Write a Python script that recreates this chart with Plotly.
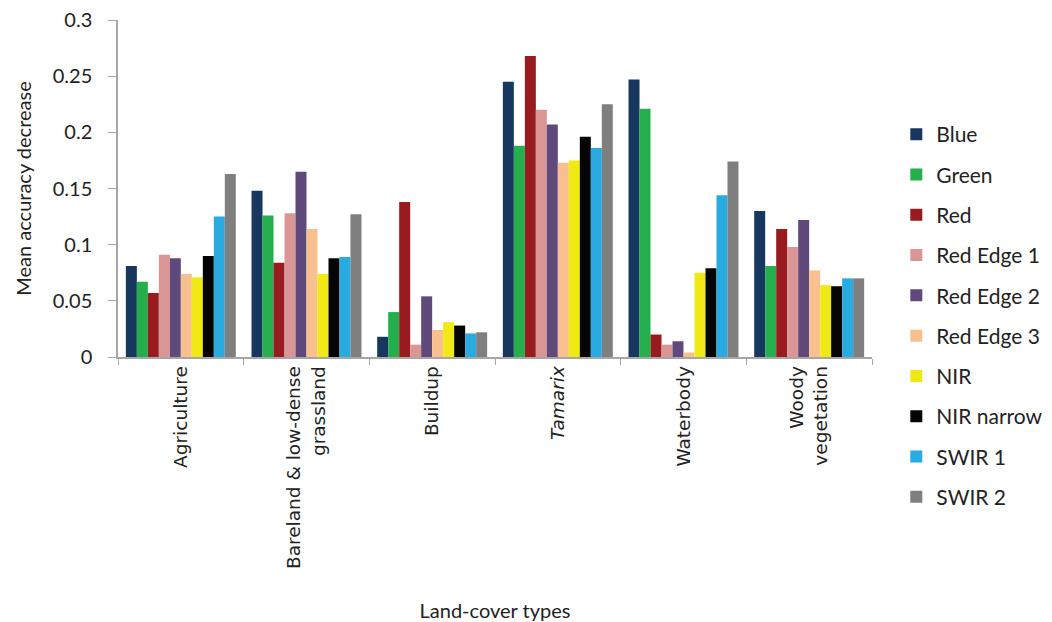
import plotly.graph_objects as go

# Land-cover classes (x categories)
categories = [
    "Agriculture",
    "Bareland & low-dense<br>grassland",
    "Buildup",
    "<i>Tamarix</i>",
    "Waterbody",
    "Woody<br>vegetation",
]

# Mean accuracy decrease per spectral band, one value per land-cover class
blue = [0.081, 0.148, 0.018, 0.245, 0.247, 0.130]
green = [0.067, 0.126, 0.040, 0.188, 0.221, 0.081]
red = [0.057, 0.084, 0.138, 0.268, 0.020, 0.114]
red_edge_1 = [0.091, 0.128, 0.011, 0.220, 0.011, 0.098]
red_edge_2 = [0.088, 0.165, 0.054, 0.207, 0.014, 0.122]
red_edge_3 = [0.074, 0.114, 0.024, 0.173, 0.004, 0.077]
nir = [0.071, 0.074, 0.031, 0.175, 0.075, 0.064]
nir_narrow = [0.090, 0.088, 0.028, 0.196, 0.079, 0.063]
swir_1 = [0.125, 0.089, 0.021, 0.186, 0.144, 0.070]
swir_2 = [0.163, 0.127, 0.022, 0.225, 0.174, 0.070]

band_names = ["Blue", "Green", "Red", "Red Edge 1", "Red Edge 2",
              "Red Edge 3", "NIR", "NIR narrow", "SWIR 1", "SWIR 2"]
band_values = [blue, green, red, red_edge_1, red_edge_2,
               red_edge_3, nir, nir_narrow, swir_1, swir_2]
band_colors = ["#17375E", "#24AE4E", "#981B20", "#D99694", "#604A7B",
               "#F8C08F", "#F1E916", "#050505", "#29ABE2", "#7F7F80"]

y_ticks = [0, 0.05, 0.1, 0.15, 0.2, 0.25, 0.3]
y_ticktext = ["0", "0.05", "0.1", "0.15", "0.2", "0.25", "0.3"]

fig = go.Figure()
for i, (name, vals, col) in enumerate(zip(band_names, band_values, band_colors)):
    fig.add_trace(go.Bar(
        x=categories, y=vals, name=name,
        marker=dict(color=col, line=dict(width=0)),
        legendgroup=f"g{i}",
    ))

axis_grey = "#A6A6A6"
text_col = "#222222"
fig.update_layout(
    width=1052, height=622,
    margin=dict(l=118, r=180, t=20, b=265, autoexpand=False),
    paper_bgcolor="white", plot_bgcolor="white",
    barmode="group", bargap=0.125, bargroupgap=0,
    font=dict(family="Lato", color=text_col),
    showlegend=True,
    legend=dict(
        xref="container", yref="container",
        x=0.852, y=1 - 316 / 622, xanchor="left", yanchor="middle",
        maxheight=600,
        font=dict(family="Lato", size=21, color=text_col),
        tracegroupgap=10, itemwidth=30,
        bgcolor="rgba(0,0,0,0)",
    ),
    xaxis=dict(
        type="category",
        tickson="boundaries",
        ticks="outside", ticklen=6, tickcolor=axis_grey, tickwidth=1,
        showline=True, linecolor=axis_grey, linewidth=1.5,
        tickangle=-90,
        tickfont=dict(family="DejaVu Sans", size=18.5, color=text_col),
        title=dict(text="Land-cover types",
                   font=dict(family="Lato", size=20, color=text_col),
                   standoff=40),
        showgrid=False,
    ),
    yaxis=dict(
        range=[0, 0.3],
        tickvals=y_ticks, ticktext=y_ticktext,
        ticks="outside", ticklen=8, tickcolor=axis_grey, tickwidth=1,
        ticklabelstandoff=12,
        showline=True, linecolor=axis_grey, linewidth=1.5,
        tickfont=dict(family="Lato", size=20, color=text_col),
        title=dict(text="Mean accuracy decrease",
                   font=dict(family="Lato", size=20, color=text_col),
                   standoff=16),
        showgrid=False, zeroline=False,
    ),
)

fig.write_html("out.html")
